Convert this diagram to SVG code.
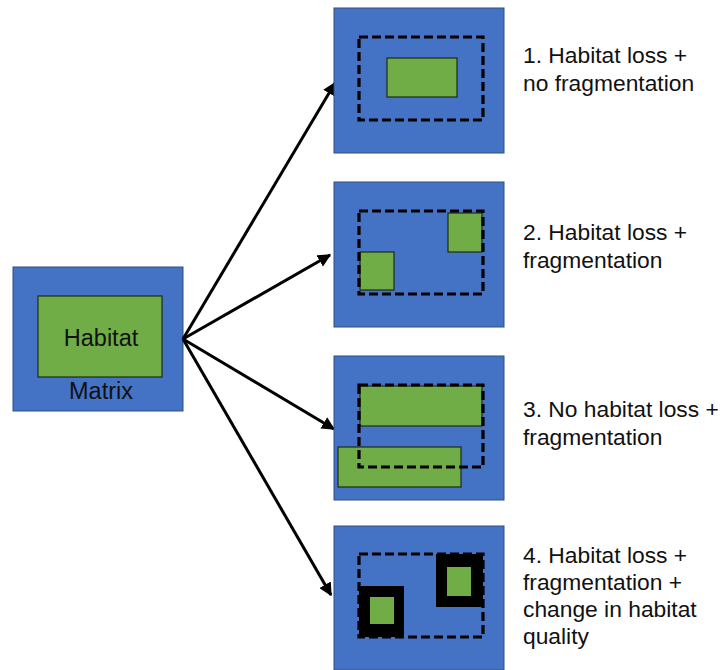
<svg xmlns="http://www.w3.org/2000/svg" width="722" height="670" viewBox="0 0 722 670">
  <style>
    .matrix { fill: #4472C4; stroke: #2F4F7F; stroke-width: 1; }
    .habitat { fill: #70AD47; stroke: #1E2A14; stroke-width: 1.2; }
    .ring { fill: #000000; }
    .core { fill: #70AD47; }
    .extent { fill: none; stroke: #000000; stroke-width: 3.2; stroke-dasharray: 9 4; }
    .arrow { stroke: #000000; stroke-width: 3; fill: none; marker-end: url(#head); }
    .label { font-family: "Liberation Sans", Arial, sans-serif; font-size: 22.8px; fill: #111111; }
    .inner { font-size: 23.5px; }
  </style>
  <defs>
    <marker id="head" viewBox="0 0 10 10" refX="9" refY="5" markerWidth="4.4" markerHeight="4.4" orient="auto" markerUnits="strokeWidth">
      <path d="M0,0 L10,5 L0,10 Z" fill="#000000"/>
    </marker>
  </defs>

  <rect width="722" height="670" fill="#FFFFFF"/>

  <!-- original landscape -->
  <g id="source">
    <rect class="matrix" x="13" y="267" width="170" height="144"/>
    <rect class="habitat" x="38" y="296" width="124" height="81"/>
    <text class="label inner" x="101" y="346" text-anchor="middle">Habitat</text>
    <text class="label inner" x="101" y="399" text-anchor="middle">Matrix</text>
  </g>

  <!-- connectors -->
  <g id="connectors">
    <line class="arrow" x1="183" y1="339" x2="335" y2="83"/>
    <line class="arrow" x1="183" y1="339" x2="330" y2="255"/>
    <line class="arrow" x1="183" y1="339" x2="334" y2="429"/>
    <line class="arrow" x1="183" y1="339" x2="331" y2="595"/>
  </g>

  <!-- scenario 1 -->
  <g id="scenario1">
    <rect class="matrix" x="334" y="8" width="170" height="145"/>
    <rect class="habitat" x="387" y="58" width="70" height="39"/>
    <rect class="extent" x="359" y="37" width="124" height="83"/>
    <text class="label" x="523" y="63">1. Habitat loss +</text>
    <text class="label" x="523" y="91">no fragmentation</text>
  </g>

  <!-- scenario 2 -->
  <g id="scenario2">
    <rect class="matrix" x="334" y="182" width="170" height="145"/>
    <rect class="habitat" x="448" y="213" width="34" height="39"/>
    <rect class="habitat" x="360" y="252" width="34" height="38"/>
    <rect class="extent" x="359" y="211" width="124" height="83"/>
    <text class="label" x="523" y="240">2. Habitat loss +</text>
    <text class="label" x="523" y="268">fragmentation</text>
  </g>

  <!-- scenario 3 -->
  <g id="scenario3">
    <rect class="matrix" x="334" y="356" width="170" height="144"/>
    <rect class="habitat" x="360" y="386" width="122" height="40"/>
    <rect class="habitat" x="338" y="447" width="123" height="40"/>
    <rect class="extent" x="359" y="385" width="124" height="82"/>
    <text class="label" x="523" y="417">3. No habitat loss +</text>
    <text class="label" x="523" y="445">fragmentation</text>
  </g>

  <!-- scenario 4 -->
  <g id="scenario4">
    <rect class="matrix" x="334" y="526" width="170" height="144"/>
    <rect class="ring" x="359" y="586" width="45" height="51"/>
    <rect class="core" x="370" y="597" width="24" height="27"/>
    <rect class="ring" x="436" y="554" width="47" height="53"/>
    <rect class="core" x="447" y="567" width="24" height="29"/>
    <rect class="extent" x="359" y="554" width="124" height="83"/>
    <text class="label" x="523" y="563">4. Habitat loss +</text>
    <text class="label" x="523" y="590">fragmentation +</text>
    <text class="label" x="523" y="617">change in habitat</text>
    <text class="label" x="523" y="644">quality</text>
  </g>
</svg>
